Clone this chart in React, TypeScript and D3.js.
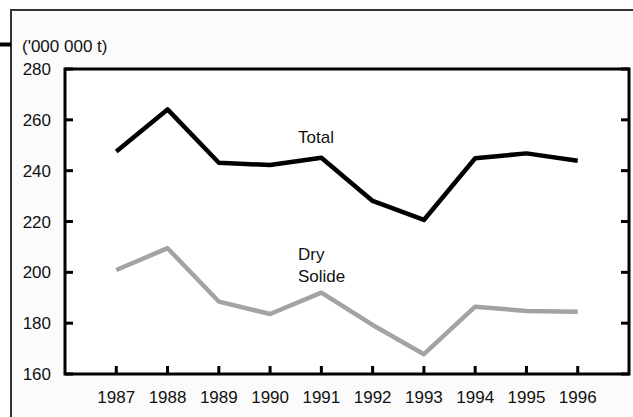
import React from 'react';
import * as d3 from 'd3';

const years = ['1987', '1988', '1989', '1990', '1991', '1992', '1993', '1994', '1995', '1996'];
const totalValues = [247.5, 264.1, 243.1, 242.2, 245.1, 228.1, 220.6, 244.9, 246.8, 243.9];
const drySolideValues = [200.9, 209.5, 188.5, 183.6, 192.0, 179.3, 167.8, 186.5, 184.8, 184.5];
const yTicks = [160, 180, 200, 220, 240, 260, 280];

const width = 633;
const height = 417;
const plot = { left: 65, right: 629, top: 69, bottom: 374 };
const font = '"Liberation Sans", Arial, sans-serif';
const fs = 17;

const App = () => {
  const x = d3.scalePoint().domain(years).range([plot.left, plot.right]).padding(1);
  const y = d3.scaleLinear().domain([160, 280]).range([plot.bottom, plot.top]);

  const line = d3.line<number>()
    .x((d, i) => x(years[i]) as number)
    .y(d => y(d));

  const tickLen = 8;

  return (
    <svg
      xmlns="http://www.w3.org/2000/svg"
      width={width}
      height={height}
      style={{ position: 'absolute', left: 0, top: 0, background: '#fff' }}
      fontFamily={font}
    >
      {/* outer frame, runs off the right and bottom edges */}
      <rect x={11} y={10} width={640} height={420} fill="#fbfbfb" stroke="#333" strokeWidth={2} />
      <line x1={0} x2={11} y1={44.5} y2={44.5} stroke="#000" strokeWidth={4} />

      {/* plot box */}
      <rect
        x={plot.left}
        y={plot.top}
        width={plot.right - plot.left}
        height={plot.bottom - plot.top}
        fill="#fff"
        stroke="#000"
        strokeWidth={3}
      />

      {/* y ticks on both sides, pointing in */}
      {yTicks.map(t => (
        <g key={t}>
          <line x1={plot.left} x2={plot.left + tickLen} y1={y(t)} y2={y(t)} stroke="#000" strokeWidth={3} />
          <line x1={plot.right - tickLen} x2={plot.right} y1={y(t)} y2={y(t)} stroke="#000" strokeWidth={3} />
          <text x={51} y={y(t)} dy="0.36em" textAnchor="end" fontSize={fs} fill="#111">{t}</text>
        </g>
      ))}

      {/* x ticks */}
      {years.map(yr => (
        <g key={yr}>
          <line x1={x(yr)} x2={x(yr)} y1={plot.bottom} y2={plot.bottom - tickLen} stroke="#000" strokeWidth={3} />
          <text x={x(yr)} y={403} textAnchor="middle" fontSize={fs} fill="#111">{yr}</text>
        </g>
      ))}

      <text x={22} y={52} fontSize={fs} fill="#111">('000 000 t)</text>

      <path d={line(drySolideValues) || ''} fill="none" stroke="#a3a3a3" strokeWidth={4.5} strokeLinejoin="round" />
      <path d={line(totalValues) || ''} fill="none" stroke="#000" strokeWidth={4.5} strokeLinejoin="round" />

      <text x={298} y={143} fontSize={fs} fill="#111">Total</text>
      <text x={298} y={260} fontSize={fs} fill="#111">Dry</text>
      <text x={298} y={282} fontSize={fs} fill="#111">Solide</text>
    </svg>
  );
};

export default App;
